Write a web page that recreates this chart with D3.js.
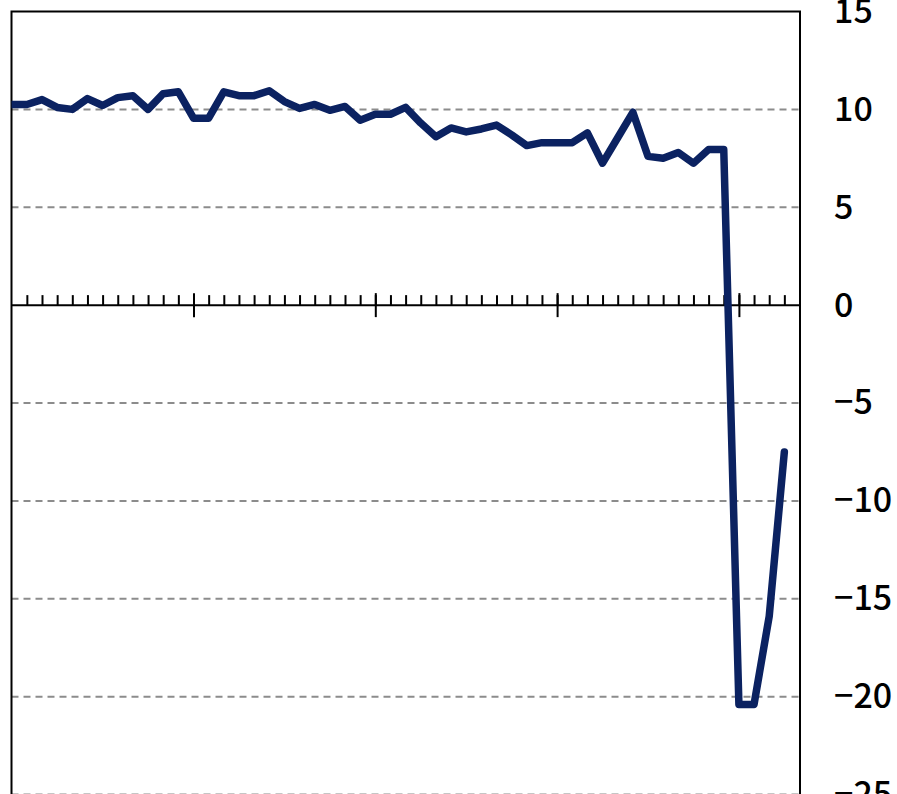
<!DOCTYPE html>
<html>
<head>
<meta charset="utf-8">
<script src="https://cdn.jsdelivr.net/npm/d3@7"></script>
<style>
  html, body { margin: 0; padding: 0; background: #ffffff; }
  svg { display: block; }
</style>
</head>
<body>
<svg id="chart" width="897" height="794"></svg>
<script>
// Monthly growth rate (%), 52 consecutive months
const values = [
  10.25, 10.25, 10.5, 10.1, 10.0, 10.55, 10.2, 10.6, 10.7, 10.0, 10.8, 10.9,
  9.55, 9.55, 10.9, 10.7, 10.7, 10.95, 10.4, 10.05, 10.25, 9.95, 10.15, 9.45,
  9.75, 9.75, 10.1, 9.3, 8.6, 9.05, 8.85, 9.0, 9.2, 8.7, 8.15, 8.3,
  8.3, 8.3, 8.8, 7.25, 8.55, 9.85, 7.6, 7.5, 7.8, 7.25, 7.95, 7.95,
  -20.4, -20.4, -15.9, -7.5
];
// Year boundaries (month index) get the long ticks
const yearTicks = [12, 24, 36, 48];
// Right-hand value axis
const yTicks = [15, 10, 5, 0, -5, -10, -15, -20, -25];
const gridValues = [10, 5, -5, -10, -15, -20, -25];

const svg = d3.select("#chart");
const plotLeft = 11.5, plotRight = 800, plotTop = 11.5, plotBottom = 794.5;

const x = d3.scaleLinear().domain([0, 52]).range([plotLeft + 0.2, plotRight - 0.5]);
const y = d3.scaleLinear().domain([-25, 15]).range([plotBottom, plotTop]);

// dashed horizontal gridlines
svg.append("g")
  .selectAll("line")
  .data(gridValues)
  .join("line")
  .attr("x1", plotLeft).attr("x2", plotRight)
  .attr("y1", d => y(d)).attr("y2", d => y(d))
  .attr("stroke", "#8c8c8c")
  .attr("stroke-width", 2)
  .attr("stroke-dasharray", "7,5");

// plot frame: top, left, right
svg.append("path")
  .attr("d", `M${plotLeft},${plotBottom} V${plotTop} H${plotRight} V${plotBottom}`)
  .attr("fill", "none")
  .attr("stroke", "#000")
  .attr("stroke-width", 2);

// zero line with monthly ticks
const zeroY = y(0);
const minorAxis = d3.axisTop(x)
  .tickValues(d3.range(1, 52))
  .tickSize(10)
  .tickFormat("");
svg.append("g")
  .attr("transform", `translate(0,${zeroY})`)
  .call(minorAxis)
  .call(g => g.select(".domain").remove())
  .call(g => g.selectAll(".tick line").attr("stroke", "#000").attr("stroke-width", 2));

const majorAxis = d3.axisBottom(x)
  .tickValues(yearTicks)
  .tickSize(12)
  .tickFormat("");
svg.append("g")
  .attr("transform", `translate(0,${zeroY})`)
  .call(majorAxis)
  .call(g => g.select(".domain").remove())
  .call(g => g.selectAll(".tick line")
    .attr("y1", -12)
    .attr("stroke", "#000").attr("stroke-width", 2));

svg.append("line")
  .attr("x1", plotLeft).attr("x2", plotRight)
  .attr("y1", zeroY).attr("y2", zeroY)
  .attr("stroke", "#000")
  .attr("stroke-width", 2);

// data line, clipped to the plot area
svg.append("clipPath").attr("id", "plotClip")
  .append("rect")
  .attr("x", plotLeft).attr("y", 0)
  .attr("width", plotRight - plotLeft).attr("height", 794);

const line = d3.line()
  .x((d, i) => x(i))
  .y(d => y(d));

svg.append("path")
  .datum(values)
  .attr("clip-path", "url(#plotClip)")
  .attr("d", line)
  .attr("fill", "none")
  .attr("stroke", "#0b2261")
  .attr("stroke-width", 7.5)
  .attr("stroke-linejoin", "round")
  .attr("stroke-linecap", "round");

// right value axis labels
const yAxis = d3.axisRight(y)
  .tickValues(yTicks)
  .tickSize(0)
  .tickPadding(34)
  .tickFormat(d => d < 0 ? "\u2212" + Math.abs(d) : String(d));
svg.append("g")
  .attr("transform", `translate(${plotRight},0)`)
  .call(yAxis)
  .call(g => g.select(".domain").remove())
  .call(g => g.selectAll(".tick text")
    .attr("fill", "#000")
    .attr("font-family", "'Noto Sans CJK JP', 'Noto Sans', sans-serif")
    .attr("font-weight", 500)
    .attr("font-size", 34));
</script>
</body>
</html>
